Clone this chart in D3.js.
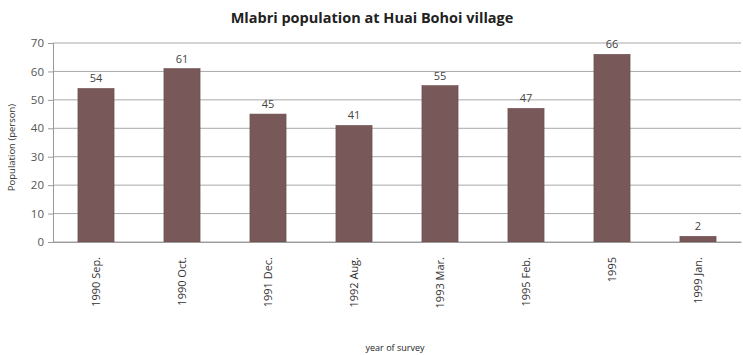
<!DOCTYPE html>
<html>
<head>
<meta charset="utf-8">
<script src="https://cdn.jsdelivr.net/npm/d3@7/dist/d3.min.js"></script>
<style>
  html, body { margin: 0; padding: 0; background: #fff; }
  svg { display: block; }
  text { font-family: "Open Sans", "Noto Sans", sans-serif; }
</style>
</head>
<body>
<svg id="chart" width="743" height="355"></svg>
<script>
// Survey dates and the population counted at each one
const surveys = ["1990 Sep.", "1990 Oct.", "1991 Dec.", "1992 Aug.", "1993 Mar.", "1995 Feb.", "1995", "1999 Jan."];
const population = [54, 61, 45, 41, 55, 47, 66, 2];
const yTicks = [0, 10, 20, 30, 40, 50, 60, 70];

const W = 743, H = 355;
const margin = { left: 53, right: 2, top: 43, bottom: 113 };
const svg = d3.select("#chart");

const x = d3.scaleBand()
  .domain(surveys)
  .range([margin.left, W - margin.right])
  .paddingInner(0.58)
  .paddingOuter(0.29);

const y = d3.scaleLinear()
  .domain([0, 70])
  .range([H - margin.bottom, margin.top]);

// horizontal gridlines
svg.append("g")
  .selectAll("line")
  .data(yTicks)
  .join("line")
  .attr("x1", margin.left)
  .attr("x2", W - margin.right)
  .attr("y1", d => y(d))
  .attr("y2", d => y(d))
  .attr("stroke", "#a8a8a8")
  .attr("stroke-width", 1);

// y axis
const yAxis = svg.append("g")
  .attr("transform", `translate(${margin.left},0)`)
  .call(d3.axisLeft(y).tickValues(yTicks).tickSize(5).tickPadding(4));
yAxis.select(".domain").attr("stroke", "#9a9a9a");
yAxis.selectAll(".tick line").attr("stroke", "#9a9a9a");
yAxis.selectAll(".tick text")
  .attr("fill", "#555")
  .style("font-size", "11.5px");

// bars
svg.append("g")
  .selectAll("rect")
  .data(population)
  .join("rect")
  .attr("x", (d, i) => x(surveys[i]))
  .attr("y", d => y(d))
  .attr("width", x.bandwidth())
  .attr("height", d => y(0) - y(d))
  .attr("fill", "#785858")
  .attr("stroke", "#6a4e4e")
  .attr("stroke-width", 0.6);

// value labels above bars
svg.append("g")
  .selectAll("text")
  .data(population)
  .join("text")
  .attr("x", (d, i) => x(surveys[i]) + x.bandwidth() / 2)
  .attr("y", d => y(d) - 6)
  .attr("text-anchor", "middle")
  .attr("fill", "#444")
  .style("font-size", "11px")
  .text(d => d);

// x axis
const xAxis = svg.append("g")
  .attr("transform", `translate(0,${y(0)})`)
  .call(d3.axisBottom(x).tickSize(0).tickPadding(0));
xAxis.select(".domain").attr("stroke", "#9a9a9a");
xAxis.selectAll(".tick text")
  .attr("transform", "rotate(-90)")
  .attr("x", -15)
  .attr("y", 0)
  .attr("dy", "0.35em")
  .attr("text-anchor", "end")
  .attr("fill", "#333")
  .style("font-size", "11px");

// title
svg.append("text")
  .attr("x", 372)
  .attr("y", 23)
  .attr("text-anchor", "middle")
  .attr("fill", "#222")
  .style("font-size", "14.5px")
  .style("font-weight", "bold")
  .text("Mlabri population at Huai Bohoi village");

// axis titles
svg.append("text")
  .attr("transform", `translate(15,${(y(0) + y(70)) / 2 + 5}) rotate(-90)`)
  .attr("text-anchor", "middle")
  .attr("fill", "#333")
  .style("font-size", "9.5px")
  .text("Population (person)");

svg.append("text")
  .attr("x", 395)
  .attr("y", 351)
  .attr("text-anchor", "middle")
  .attr("fill", "#222")
  .style("font-size", "9px")
  .text("year of survey");
</script>
</body>
</html>
